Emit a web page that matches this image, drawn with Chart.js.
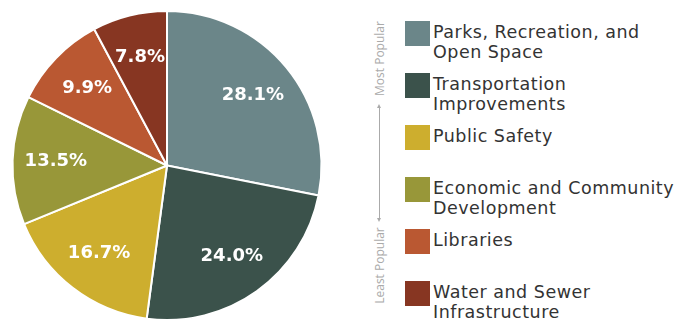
<!DOCTYPE html>
<html>
<head>
<meta charset="utf-8">
<script src="https://cdn.jsdelivr.net/npm/chart.js@4/dist/chart.umd.min.js"></script>
<style>
  html, body { margin:0; padding:0; background:#fff; }
  #wrap { position:relative; width:678px; height:325px; overflow:hidden; }
  #pieBox { position:absolute; left:0; top:0; width:334px; height:325px; }
  #legend { position:absolute; left:405px; top:21px; font-family:"DejaVu Sans", sans-serif; font-size:17.5px; letter-spacing:0.5px; color:#333; }
  .item { position:relative; height:52px; }
  .sw { position:absolute; left:0; top:0; width:25px; height:25px; }
  .txt { position:absolute; left:28px; top:1px; line-height:20px; white-space:nowrap; }
  .side { position:absolute; font-family:"Open Sans", sans-serif; font-size:12px; color:#aaa; white-space:nowrap; transform:rotate(-90deg); transform-origin:center center; }
  #axisLine { position:absolute; left:379px; top:107px; width:1px; height:113px; background:#aaa; }
  .tip { position:absolute; left:377px; width:0; height:0; border-left:2.5px solid transparent; border-right:2.5px solid transparent; }
</style>
</head>
<body>
<div id="wrap">
  <div id="pieBox"><canvas id="pieChart"></canvas></div>
  <span class="side" id="most">Most Popular</span>
  <div id="axisLine"></div>
  <div class="tip" style="top:104px;border-bottom:4px solid #aaa;"></div>
  <div class="tip" style="top:218px;border-top:4px solid #aaa;"></div>
  <span class="side" id="least">Least Popular</span>
  <div id="legend"></div>
</div>
<script>
const categories = [
  ['Parks, Recreation, and', 'Open Space'],
  ['Transportation', 'Improvements'],
  ['Public Safety'],
  ['Economic and Community', 'Development'],
  ['Libraries'],
  ['Water and Sewer', 'Infrastructure']
];
const shares = [28.1, 24.0, 16.7, 13.5, 9.9, 7.8];
const colors = ['#6b8689', '#3b524b', '#cdae2e', '#989739', '#ba5832', '#873622'];

// side captions, centred on their spots
function placeSide(id, cx, cy) {
  const el = document.getElementById(id);
  const w = el.offsetWidth, h = el.offsetHeight;
  el.style.left = (cx - w / 2) + 'px';
  el.style.top = (cy - h / 2) + 'px';
}
placeSide('most', 379, 58);
placeSide('least', 379, 265);

// legend
const legend = document.getElementById('legend');
categories.forEach((lines, i) => {
  const item = document.createElement('div');
  item.className = 'item';
  item.innerHTML = '<div class="sw" style="background:' + colors[i] + '"></div>' +
    '<div class="txt">' + lines.join('<br>') + '</div>';
  legend.appendChild(item);
});

const sliceLabels = {
  id: 'sliceLabels',
  afterDatasetsDraw(chart) {
    const ctx = chart.ctx;
    const meta = chart.getDatasetMeta(0);
    ctx.save();
    ctx.fillStyle = '#fff';
    ctx.font = 'bold 18px "DejaVu Sans", sans-serif';
    ctx.textAlign = 'center';
    ctx.textBaseline = 'middle';
    meta.data.forEach((arc, i) => {
      const p = arc.getProps(['x', 'y', 'startAngle', 'endAngle', 'outerRadius']);
      const mid = (p.startAngle + p.endAngle) / 2;
      const r = p.outerRadius * 0.72;
      ctx.fillText(shares[i].toFixed(1) + '%', p.x + Math.cos(mid) * r, p.y + Math.sin(mid) * r);
    });
    ctx.restore();
  }
};

new Chart(document.getElementById('pieChart').getContext('2d'), {
  type: 'pie',
  data: {
    labels: categories.map(l => l.join(' ')),
    datasets: [{ data: shares, backgroundColor: colors, borderColor: '#fff', borderWidth: 2 }]
  },
  options: {
    responsive: true,
    maintainAspectRatio: false,
    animation: false,
    layout: { padding: { top: 10, bottom: 4, left: 10, right: 10 } },
    plugins: { legend: { display: false }, tooltip: { enabled: false } }
  },
  plugins: [sliceLabels]
});
</script>
</body>
</html>
